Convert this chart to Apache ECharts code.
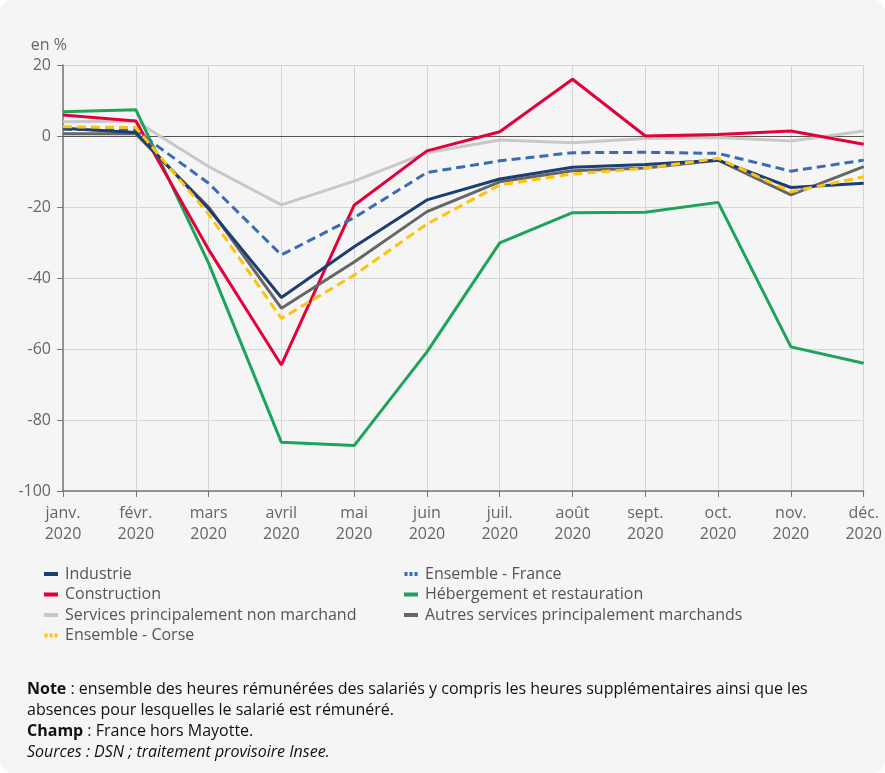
<!DOCTYPE html>
<html><head><meta charset="utf-8">
<script src="https://cdn.jsdelivr.net/npm/echarts@6/dist/echarts.min.js"></script>
<style>html,body{margin:0;padding:0;background:#ffffff;}#c{width:885px;height:773px;background:#f5f5f5;border-radius:12px;}</style>
</head><body><div id="c"></div>
<script>
const months = ['janv.\n2020','févr.\n2020','mars\n2020','avril\n2020','mai\n2020','juin\n2020','juil.\n2020','août\n2020','sept.\n2020','oct.\n2020','nov.\n2020','déc.\n2020'];
const industrie   = [2.2, 1.0, -20.5, -45.5, -31.2, -18.0, -12.1, -8.8, -8.0, -6.8, -14.5, -13.3];
const construction= [5.9, 4.2, -32.0, -64.5, -19.5, -4.2, 1.2, 16.0, 0.0, 0.4, 1.4, -2.3];
const servicesNM  = [4.0, 4.2, -8.6, -19.4, -12.7, -4.7, -1.1, -1.9, -0.7, -0.4, -1.4, 1.4];
const ensFrance   = [1.9, 1.6, -13.3, -33.5, -23.0, -10.3, -7.0, -4.7, -4.6, -4.9, -9.9, -6.8];
const hebergement = [6.8, 7.4, -35.8, -86.3, -87.2, -60.8, -30.1, -21.6, -21.5, -18.7, -59.4, -64.0];
const autres      = [0.6, 0.6, -20.0, -48.5, -35.5, -21.3, -12.9, -9.8, -9.0, -6.8, -16.6, -8.6];
const ensCorse    = [2.6, 2.4, -22.0, -51.4, -39.2, -24.8, -13.8, -10.7, -9.1, -6.3, -15.7, -11.5];

const FONT = "'Open Sans', sans-serif";
const solidIcon = 'rect';
const dotIcon = 'path://M0,0h3v4h-3z M5,0h3v4h-3z M10,0h3v4h-3z';

function line(name, data, color, dashed, z) {
  return {
    name, type: 'line', data, symbol: 'none', z: z,
    lineStyle: { color, width: 3, type: dashed ? [9, 5] : 'solid' },
    itemStyle: { color },
    emphasis: { disabled: true }
  };
}

const series = [
  line('Services principalement non marchand', servicesNM, '#c8c8c8', false, 2),
  line('Hébergement et restauration', hebergement, '#1ea35a', false, 3),
  line('Construction', construction, '#e4003a', false, 4),
  line('Ensemble - France', ensFrance, '#3a6cb5', true, 5),
  line('Autres services principalement marchands', autres, '#666666', false, 6),
  line('Industrie', industrie, '#1b3e73', false, 7),
  line('Ensemble - Corse', ensCorse, '#ffc20e', true, 8)
];
series[0].markLine = {
  silent: true, symbol: 'none', label: { show: false },
  lineStyle: { color: '#555555', width: 1, type: 'solid' },
  data: [{ yAxis: 0 }], z: 1
};

const legendText = { fontFamily: FONT, fontSize: 16, color: '#555555', lineHeight: 20, padding: [0, 0, 0, 2] };
const chart = echarts.init(document.getElementById('c'), null, { renderer: 'canvas' });
chart.setOption({
  animation: false,
  textStyle: { fontFamily: FONT },
  grid: { left: 63, right: 13, top: 65, bottom: 282 },
  xAxis: {
    type: 'category', data: months, boundaryGap: false,
    axisLine: { onZero: false, lineStyle: { color: '#777777', width: 1.5 } },
    axisTick: { show: true, length: 6, lineStyle: { color: '#777777' } },
    axisLabel: { fontFamily: FONT, fontSize: 16, color: '#666666', lineHeight: 21, margin: 12, interval: 0 },
    splitLine: { show: true, lineStyle: { color: '#d6d6d6', width: 1 } }
  },
  yAxis: {
    type: 'value', min: -100, max: 20, interval: 20,
    name: 'en %', nameLocation: 'end', nameGap: 12,
    nameTextStyle: { fontFamily: FONT, fontSize: 16, color: '#666666', align: 'right', padding: [0, -4, 0, 0] },
    axisLine: { show: true, lineStyle: { color: '#777777', width: 1.5 } },
    axisTick: { show: true, length: 6, lineStyle: { color: '#777777' } },
    axisLabel: { fontFamily: FONT, fontSize: 16, color: '#666666', margin: 12 },
    splitLine: { show: true, lineStyle: { color: '#d6d6d6', width: 1 } }
  },
  legend: [
    { orient: 'vertical', left: 39, top: 559, itemGap: 0.5, itemWidth: 14, itemHeight: 4,
      textStyle: legendText, selectedMode: false,
      data: [
        { name: 'Industrie', icon: solidIcon },
        { name: 'Construction', icon: solidIcon },
        { name: 'Services principalement non marchand', icon: solidIcon },
        { name: 'Ensemble - Corse', icon: dotIcon }
      ] },
    { orient: 'vertical', left: 399, top: 559, itemGap: 0.5, itemWidth: 14, itemHeight: 4,
      textStyle: legendText, selectedMode: false,
      data: [
        { name: 'Ensemble - France', icon: dotIcon },
        { name: 'Hébergement et restauration', icon: solidIcon },
        { name: 'Autres services principalement marchands', icon: solidIcon }
      ] }
  ],
  graphic: [
    { type: 'text', left: 27, top: 679, style: {
      text: '{b|Note} : ensemble des heures rémunérées des salariés y compris les heures supplémentaires ainsi que les\nabsences pour lesquelles le salarié est rémunéré.\n{b|Champ} : France hors Mayotte.\n{i|Sources : DSN ; traitement provisoire Insee.}',
      fontFamily: FONT, fontSize: 16, fill: '#111111', lineHeight: 21,
      rich: {
        b: { fontFamily: FONT, fontSize: 16, fontWeight: 'bold', fill: '#111111', lineHeight: 21 },
        i: { fontFamily: FONT, fontSize: 16, fontStyle: 'italic', fill: '#111111', lineHeight: 21 }
      }
    } }
  ],
  series
});
</script></body></html>
